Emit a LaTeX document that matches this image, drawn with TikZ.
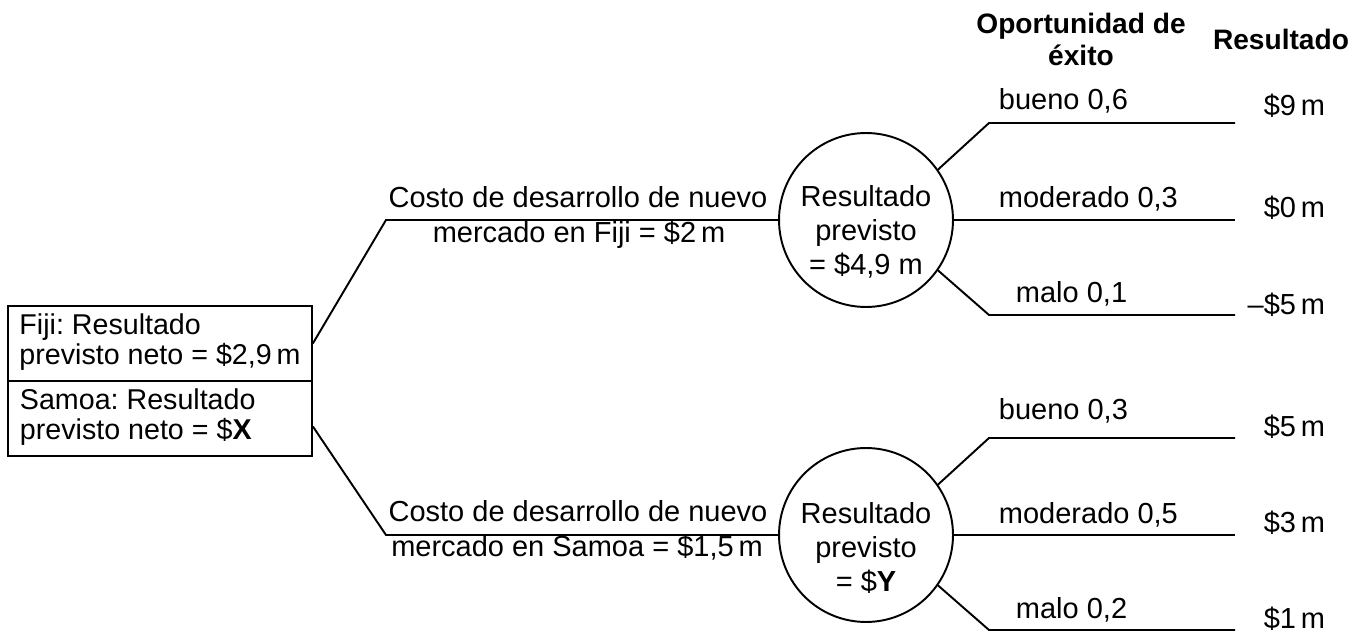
\documentclass[tikz,border=0pt]{standalone}
\usepackage{fontspec}
\setmainfont{Liberation Sans}
\usepackage{tikz}
\usetikzlibrary{positioning, calc}
\frenchspacing

\begin{document}
\begin{tikzpicture}[
        x=0.02cm, y=-0.02cm,
        line width=1.1pt,
        txt/.style={inner sep=0pt, font=\fontsize{16.5}{19.4}\selectfont},
        head/.style={inner sep=0pt, align=center, font=\fontsize{16}{18.2}\selectfont\bfseries},
        box/.style={rectangle, draw, anchor=north west, minimum width=6.08cm, minimum height=1.5cm, inner xsep=0.2cm, inner ysep=0pt, font=\fontsize{16.3}{18.2}\selectfont},
        chance/.style={circle, draw, minimum size=3.48cm, inner sep=0pt},
        ctext/.style={txt, align=center},
        prob/.style={txt, anchor=base west},
        payoff/.style={txt, anchor=base east}
    ]
        \useasboundingbox (0,0) rectangle (1372,634);

        % Headings
        \node[head] (hchance) at (1081,39) {Oportunidad de\\éxito};
        \node[head, anchor=base] (hresult) at (1281,50) {Resultado};

        % Decision box
        \node[box] (fiji) at (7,305) {\begin{tabular}{@{}l@{}}Fiji: Resultado\\[-1pt]previsto neto = \$2,9\,m\end{tabular}};
        \node[box] (samoa) at (7,380) {\begin{tabular}{@{}p{5.6cm}@{}}Samoa: Resultado\\[-1pt]previsto neto = \$\textbf{X}\end{tabular}};

        % Chance nodes
        \node[chance] (cfiji) at (866,220) {};
        \node[ctext] (tfiji) at (866,232) {Resultado\\previsto\\= \$4,9 m};
        \node[chance] (csamoa) at (866,535) {};
        \node[ctext] (tsamoa) at (866,548) {Resultado\\previsto\\= \$\textbf{Y}};

        % Elbows
        \coordinate (kfiji) at (386,220);
        \coordinate (ksamoa) at (386,535);

        % Branches: box to chance nodes
        \draw (fiji.east) -- (kfiji) -- (cfiji.west);
        \draw ([yshift=-0.16cm]samoa.east) -- (ksamoa) -- (csamoa.west);

        % Costs
        \node[txt, anchor=base] (cost1) at (578,208) {Costo de desarrollo de nuevo};
        \node[txt, anchor=base] (mkt1) at (579,243) {mercado en Fiji = \$2\,m};
        \node[txt, anchor=base] (cost2) at (578,521) {Costo de desarrollo de nuevo};
        \node[txt, anchor=base] (mkt2) at (577,556) {mercado en Samoa = \$1,5\,m};

        % Outcome points, Fiji
        \coordinate (fgood) at (989,123);
        \coordinate (fgoodend) at (1235,123);
        \coordinate (fmidend) at (1235,220);
        \coordinate (fbad) at (989,315);
        \coordinate (fbadend) at (1235,315);

        % Outcome points, Samoa
        \coordinate (sgood) at (989,438);
        \coordinate (sgoodend) at (1235,438);
        \coordinate (smidend) at (1235,535);
        \coordinate (sbad) at (989,630);
        \coordinate (sbadend) at (1235,630);

        % Branches: chance nodes to outcomes
        \draw (cfiji.35) -- (fgood) -- (fgoodend);
        \draw (cfiji.east) -- (fmidend);
        \draw (cfiji.-35) -- (fbad) -- (fbadend);
        \draw (csamoa.35) -- (sgood) -- (sgoodend);
        \draw (csamoa.east) -- (smidend);
        \draw (csamoa.-35) -- (sbad) -- (sbadend);

        % Chances
        \node[prob] (pf1) at (998,110) {bueno 0,6};
        \node[prob] (pf2) at (998,208) {moderado 0,3};
        \node[prob] (pf3) at (1015,303) {malo 0,1};
        \node[prob] (ps1) at (998,420) {bueno 0,3};
        \node[prob] (ps2) at (998,523) {moderado 0,5};
        \node[prob] (ps3) at (1015,618) {malo 0,2};

        % Results
        \node[payoff] (rf1) at (1326,116) {\$9\,m};
        \node[payoff] (rf2) at (1326,218) {\$0\,m};
        \node[payoff] (rf3) at (1326,315) {–\$5\,m};
        \node[payoff] (rs1) at (1326,437) {\$5\,m};
        \node[payoff] (rs2) at (1326,532) {\$3\,m};
        \node[payoff] (rs3) at (1326,628) {\$1\,m};
    \end{tikzpicture}
\end{document}
